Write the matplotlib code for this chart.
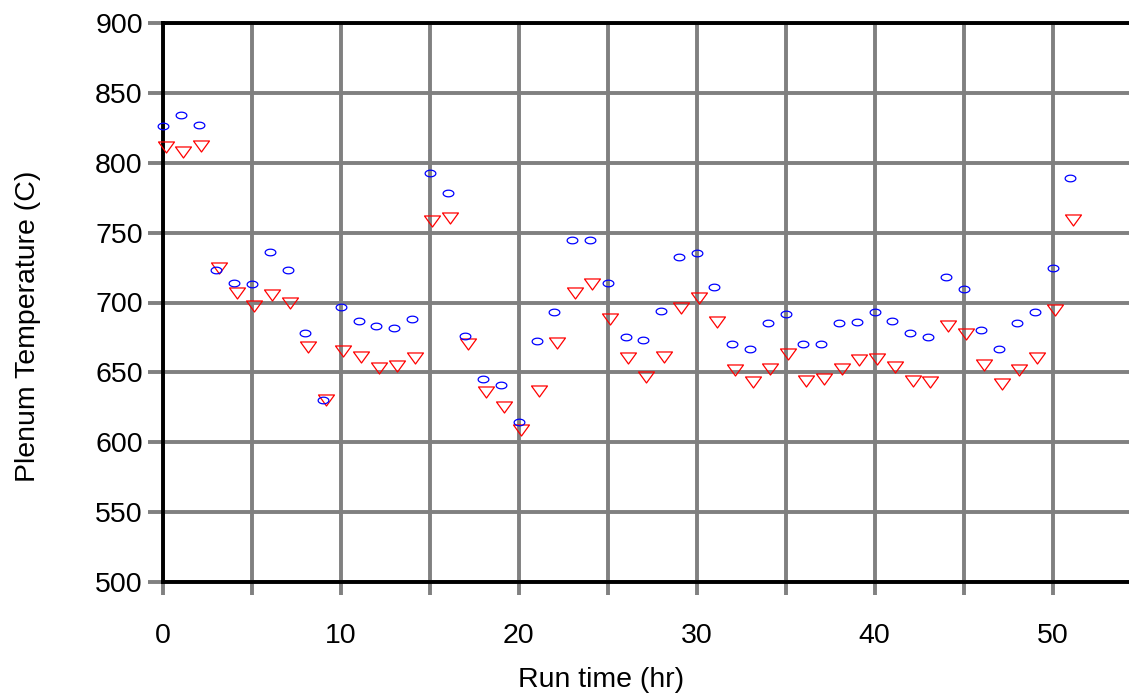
import numpy as np
import matplotlib
matplotlib.use("Agg")
import matplotlib.pyplot as plt
from matplotlib.path import Path
from matplotlib.transforms import ScaledTranslation

plt.rcParams['font.family'] = ['Liberation Sans', 'DejaVu Sans']

hours = list(range(0, 52))
blue_temps = [826, 834, 827, 723, 714, 713, 736, 723, 678, 630,
              697, 687, 683, 682, 688, 793, 778, 676, 645, 641,
              614.5, 672.5, 693.5, 744.5, 745, 714, 675, 673.5, 694, 732.5,
              735.5, 711, 670, 666.5, 685, 692, 670.5, 670, 685, 686,
              693.5, 686.5, 678.5, 675, 718, 710, 680.5, 666.5, 685, 693.5,
              724.5, 789]
red_temps = [811.5, 808, 812, 724.5, 706.5, 697.5, 705.5, 699.5, 668, 630,
             665, 661, 653, 654.5, 660.5, 758, 760.5, 670, 636, 625,
             609, 637, 671, 707, 713, 688.5, 660, 646.5, 661, 696,
             703, 686, 652, 643, 652.5, 663, 643.5, 645.5, 652.5, 659,
             659.5, 653.5, 644, 643, 683.5, 677.5, 655.5, 641.5, 652, 660,
             694.5, 759]

x_ticks = [0, 10, 20, 30, 40, 50]
y_ticks = [500, 550, 600, 650, 700, 750, 800, 850, 900]

fig = plt.figure(figsize=(11.29, 7.0), dpi=100)
ax = fig.add_axes([163/1129, 118/700, 966/1129, 559/700])

# grid lines every 5 hr / 50 C
ax.set_xticks(np.arange(0, 55, 5), minor=True)
ax.set_xticks(x_ticks)
ax.set_yticks(y_ticks)
ax.set_xlim(0, 54.3)
ax.set_ylim(500, 900)
ax.grid(True, which='both', axis='x', color='#808080', linewidth=2.8, zorder=1)
ax.grid(True, which='major', axis='y', color='#808080', linewidth=2.8, zorder=1)
ax.set_axisbelow(True)

ax.tick_params(axis='y', which='major', direction='out', length=11, width=2.8,
               color='#808080', labelsize=20.5, pad=3.5)
ax.tick_params(axis='x', which='both', direction='out', length=9.5, width=2.8,
               color='#808080', labelsize=20.5, pad=20)
ax.tick_params(axis='x', which='minor', labelbottom=False)

for s in ['left', 'top', 'bottom']:
    ax.spines[s].set_color('black')
    ax.spines[s].set_linewidth(2.8)
    ax.spines[s].set_zorder(2)
ax.spines['right'].set_visible(False)

# custom markers
th = np.linspace(0, 2*np.pi, 61)
ellipse = Path(np.column_stack([np.cos(th), 0.62*np.sin(th)]), closed=True)
tri = Path([(-1, 0.69), (1, 0.69), (0, -0.69), (-1, 0.69)], closed=True)

tri_tr = ax.transData + ScaledTranslation(2.5/100, 0, fig.dpi_scale_trans)
ax.plot(hours, red_temps, linestyle='none', marker=tri, markersize=11.5,
        markerfacecolor='none', markeredgecolor='#ff0000', markeredgewidth=0.9,
        clip_on=False, zorder=3, transform=tri_tr)
ax.plot(hours, blue_temps, linestyle='none', marker=ellipse, markersize=7.7,
        markerfacecolor='none', markeredgecolor='#0000ff', markeredgewidth=0.9,
        clip_on=False, zorder=4)

ax.set_xlabel('Run time (hr)', fontsize=20.5)
ax.set_ylabel('Plenum Temperature (C)', fontsize=20.5)
ax.xaxis.set_label_coords(0.453, -0.152)
ax.yaxis.set_label_coords(-0.126, 0.458)

fig.savefig('out.png', dpi=100)
